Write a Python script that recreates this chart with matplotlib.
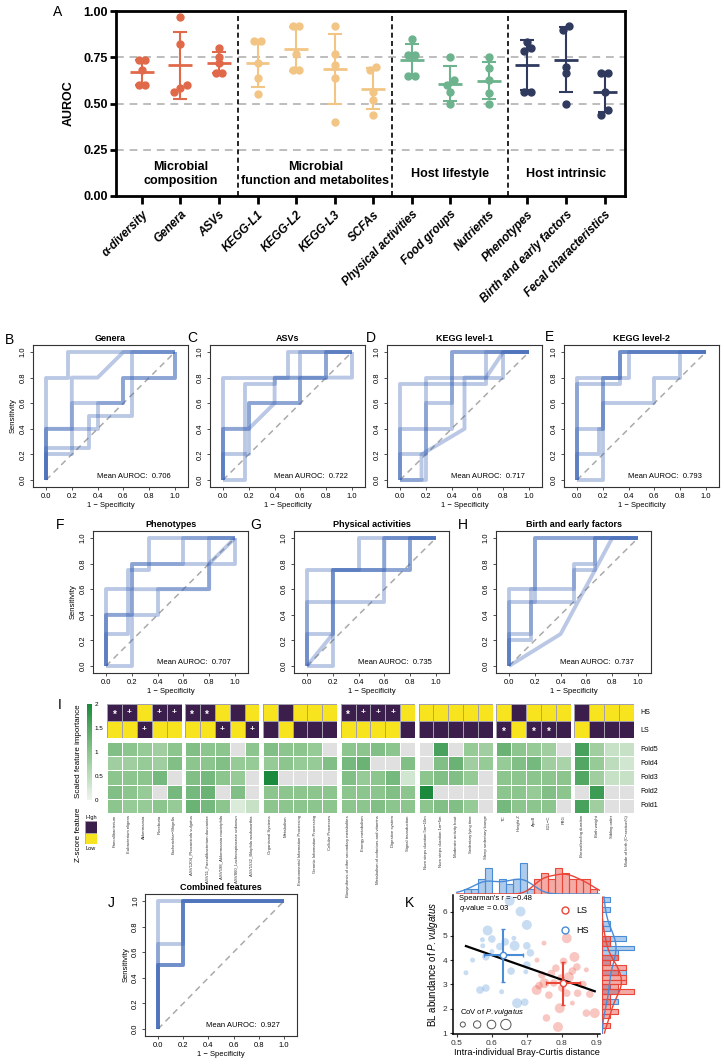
import numpy as np
import matplotlib
matplotlib.use("Agg")
import matplotlib.pyplot as plt
from matplotlib.colors import LinearSegmentedColormap, ListedColormap, to_rgba
from matplotlib.lines import Line2D
from matplotlib.patches import Rectangle

plt.rcParams['font.family'] = ['Liberation Sans', 'DejaVu Sans']
plt.rcParams['mathtext.fontset'] = 'custom'
plt.rcParams['mathtext.it'] = 'Liberation Sans:italic'
plt.rcParams['mathtext.rm'] = 'Liberation Sans'

W, H = 724, 1064

# ---------------- panel A: AUROC per fold
a_features = ['α-diversity', 'Genera', 'ASVs', 'KEGG-L1', 'KEGG-L2', 'KEGG-L3', 'SCFAs',
              'Physical activities', 'Food groups', 'Nutrients', 'Phenotypes',
              'Birth and early factors', 'Fecal characteristics']
a_group = [0, 0, 0, 1, 1, 1, 1, 2, 2, 2, 3, 3, 3]
a_group_names = ['Microbial\ncomposition', 'Microbial\nfunction and metabolites',
                 'Host lifestyle', 'Host intrinsic']
a_folds = [
    [0.733, 0.733, 0.68, 0.60, 0.60],
    [0.967, 0.82, 0.60, 0.56, 0.583],
    [0.80, 0.75, 0.72, 0.667, 0.667],
    [0.84, 0.84, 0.72, 0.64, 0.55],
    [0.92, 0.92, 0.77, 0.68, 0.68],
    [0.92, 0.767, 0.71, 0.64, 0.40],
    [0.70, 0.68, 0.56, 0.52, 0.44],
    [0.85, 0.76, 0.76, 0.65, 0.65],
    [0.75, 0.625, 0.60, 0.563, 0.50],
    [0.75, 0.69, 0.625, 0.555, 0.50],
    [0.833, 0.80, 0.783, 0.563, 0.563],
    [0.92, 0.90, 0.70, 0.667, 0.50],
    [0.667, 0.667, 0.563, 0.467, 0.44],
]
a_colors = ['#E0694A', '#F3C585', '#6DB38E', '#2F3A5E']

# ---------------- ROC curves (fpr, tpr) for each fold
roc_genera = [
    [(0, 0), (0, 0.8), (0.167, 0.8), (0.167, 1), (1, 1)],
    [(0, 0), (0, 0.4), (0.2, 0.4), (0.2, 0.8), (0.4, 0.8), (0.6, 1), (1, 1)],
    [(0, 0), (0, 0.25), (0.333, 0.25), (0.333, 0.5), (0.667, 0.5), (0.667, 1), (1, 1)],
    [(0, 0), (0, 0.4), (0.4, 0.4), (0.4, 0.6), (0.6, 0.6), (0.6, 0.8), (1, 0.8), (1, 1)],
    [(0, 0), (0, 0.2), (0.2, 0.2), (0.2, 0.6), (0.6, 0.6), (0.6, 0.8), (1, 0.8), (1, 1)],
]
roc_asvs = [
    [(0, 0), (0, 0.8), (0.5, 0.8), (0.5, 1), (1, 1)],
    [(0, 0), (0.167, 0), (0.167, 0.75), (0.4, 0.75), (0.4, 0.8), (0.6, 0.8), (0.6, 1), (1, 1)],
    [(0, 0), (0, 0.4), (0.2, 0.4), (0.2, 0.6), (0.6, 0.6), (0.6, 0.8), (0.8, 0.8), (0.8, 1), (1, 1)],
    [(0, 0), (0, 0.4), (0.2, 0.4), (0.4, 0.6), (0.4, 0.8), (0.8, 0.8), (1, 0.8), (1, 1)],
    [(0, 0), (0, 0.2), (0.2, 0.2), (0.2, 0.6), (0.6, 0.6), (0.6, 0.8), (0.8, 0.8), (0.8, 1), (1, 1)],
]
roc_kegg1 = [
    [(0, 0), (0, 0.75), (0.667, 0.75), (0.667, 1), (1, 1)],
    [(0, 0), (0, 0.4), (0.4, 0.4), (0.4, 1), (1, 1)],
    [(0, 0), (0, 0.2), (0.2, 0.2), (0.2, 0.6), (0.4, 0.6), (0.4, 1), (1, 1)],
    [(0, 0), (0.2, 0), (0.2, 0.8), (0.8, 0.8), (0.8, 1), (1, 1)],
    [(0, 0), (0.167, 0), (0.167, 0.2), (0.5, 0.4), (0.5, 0.8), (0.667, 0.8), (0.8, 1), (1, 1)],
]
roc_kegg2 = [
    [(0, 0), (0, 0.8), (0.4, 0.8), (0.4, 1), (1, 1)],
    [(0, 0), (0, 0.75), (0.333, 0.75), (0.333, 1), (1, 1)],
    [(0, 0), (0, 0.4), (0.2, 0.4), (0.2, 0.8), (0.333, 0.8), (0.333, 1), (1, 1)],
    [(0, 0), (0, 0.2), (0.167, 0.2), (0.167, 0.4), (0.2, 0.4), (0.2, 0.6), (0.6, 0.6),
     (0.6, 0.8), (0.8, 0.8), (0.8, 1), (1, 1)],
    [(0, 0), (0.2, 0), (0.2, 0.8), (0.333, 0.8), (0.333, 1), (1, 1)],
]
roc_pheno = [
    [(0, 0), (0, 0.25), (0.167, 0.25), (0.167, 0.75), (0.333, 0.75), (0.333, 1), (1, 1)],
    [(0, 0), (0, 0.6), (0.2, 0.6), (0.2, 0.8), (0.6, 0.8), (0.6, 1), (1, 1)],
    [(0, 0), (0, 0.4), (0.2, 0.4), (0.2, 0.8), (0.8, 0.8), (0.8, 1), (1, 1)],
    [(0, 0), (0, 0.4), (0.2, 0.4), (0.2, 0.6), (0.8, 0.6), (0.8, 0.8), (1, 1)],
    [(0, 0), (0.2, 0), (0.2, 0.4), (0.4, 0.4), (0.4, 0.6), (0.8, 0.6), (0.8, 0.8), (1, 0.8), (1, 1)],
]
roc_phys = [
    [(0, 0), (0, 0.75), (0.4, 0.75), (0.4, 1), (1, 1)],
    [(0, 0), (0, 0.5), (0.6, 0.5), (0.6, 1), (1, 1)],
    [(0, 0), (0, 0.25), (0.2, 0.25), (0.2, 0.75), (0.8, 0.75), (0.8, 1), (1, 1)],
    [(0, 0), (0.2, 0.25), (0.2, 0.75), (0.6, 0.75), (0.6, 1), (1, 1)],
    [(0, 0), (0.2, 0), (0.2, 0.75), (0.8, 0.75), (0.8, 1), (1, 1)],
]
roc_birth = [
    [(0, 0), (0, 0.6), (0.2, 0.6), (0.2, 1), (1, 1)],
    [(0, 0), (0, 0.5), (0.2, 0.5), (0.2, 1), (1, 1)],
    [(0, 0), (0, 0.2), (0.167, 0.2), (0.167, 0.6), (0.5, 0.6), (0.5, 0.8), (0.667, 0.8), (0.667, 1), (1, 1)],
    [(0, 0), (0, 0.25), (0.167, 0.25), (0.167, 0.5), (0.5, 0.5), (0.5, 0.75), (0.667, 0.75), (0.667, 1), (1, 1)],
    [(0, 0), (0.4, 0.25), (0.667, 0.75), (0.8, 1), (1, 1)],
]
roc_combined = [
    [(0, 0), (0, 1), (1, 1)],
    [(0, 0), (0, 0.667), (0.2, 0.667), (0.2, 1), (1, 1)],
    [(0, 0), (0, 0.5), (0.2, 0.5), (0.2, 1), (1, 1)],
    [(0, 0), (0, 0.5), (0.2, 0.5), (0.2, 1), (1, 1)],
    [(0, 0), (0, 0.5), (0.2, 0.5), (0.2, 1), (1, 1)],
]
roc_titles = ['Genera', 'ASVs', 'KEGG level-1', 'KEGG level-2', 'Phenotypes',
              'Physical activities', 'Birth and early factors', 'Combined features']
roc_mean_auc = ['0.706', '0.722', '0.717', '0.793', '0.707', '0.735', '0.737', '0.927']

# ---------------- panel I: feature importance heatmap
hm_labels = [
    ['Faecalibacterium', 'Eubacterium eligens', 'Akkermansia', 'Roseburia', 'Escherichia−Shigella'],
    ['ASV1204_Phocaeicola vulgatus', 'ASV11_Faecalibacterium duncaniae', 'ASV598_Akkermansia muciniphila',
     'ASV860_Lachnospiraceae unknown', 'ASV1532_Bilophila wadsworthia'],
    ['Organismal Systems', 'Metabolism', 'Environmental Information Processing',
     'Genetic Information Processing', 'Cellular Processes'],
    ['Biosynthesis of other secondary metabolites', 'Energy metabolism',
     'Metabolism of cofactors and vitamins', 'Digestive system', 'Signal transduction'],
    ['Num steps duration 5m−10m', 'Num steps duration 1m−5m', 'Moderate activity bout',
     'Sedentary lying time', 'Sleep sedentary lounge'],
    ['TC', 'Height Z', 'ApoB', 'LDL−C', 'FBG'],
    ['Breastfeeding duration', 'Birth weight', 'Sibling order', 'Mode of birth (C−section%)'],
]
hm_hs_high = [[1, 1, 0, 1, 1], [1, 1, 0, 1, 0], [0, 1, 0, 0, 0], [1, 1, 1, 1, 0],
              [0, 0, 0, 0, 0], [0, 1, 0, 0, 0], [1, 0, 0, 0]]
hm_ls_high = [[0, 0, 1, 0, 0], [0, 0, 1, 0, 1], [1, 0, 1, 1, 1], [0, 0, 0, 0, 1],
              [1, 1, 1, 1, 1], [1, 0, 1, 1, 1], [0, 1, 1, 1]]
hm_hs_mark = [['*', '+', '', '+', '+'], ['*', '*', '', '', ''], ['', '', '', '', ''],
              ['*', '+', '+', '+', ''], ['', '', '', '', ''], ['', '', '', '', ''], ['', '', '', '']]
hm_ls_mark = [['', '', '+', '', ''], ['', '', '+', '', '+'], ['', '', '', '', ''],
              ['', '', '', '', ''], ['', '', '', '', ''], ['*', '', '*', '*', ''], ['', '', '', '']]
nan = np.nan
hm_folds = [  # rows Fold5..Fold1
    [[1.1, 1.0, 0.9, 0.8, 1.0], [0.8, 0.8, 0.9, 0.8, 1.1], [1.0, 1.0, 1.0, 1.2, nan],
     [1.1, 1.0, 0.9, nan, 1.2], [1.0, 0.9, 0.9, 1.0, 0.9]],
    [[1.1, 1.0, 1.0, nan, 1.0], [1.0, 1.0, 1.1, 0.9, 0.9], [1.1, 1.2, 1.0, 0.9, nan],
     [1.2, 1.3, nan, 1.1, nan], [1.3, 1.2, 1.0, 0.2, 0.4]],
    [[1.1, 1.0, 1.0, 0.9, nan], [0.9, 1.0, 0.9, 0.9, 1.1], [2.0, nan, nan, nan, nan],
     [1.0, 1.0, 1.0, 1.0, 1.0], [1.0, 1.0, 1.0, 1.0, 1.0]],
    [[1.0, 1.0, 1.1, 1.0, nan], [1.2, 1.3, nan, nan, 1.1], [1.1, 0.9, 1.0, 1.2, 0.3],
     [1.0, 1.0, 1.0, 1.1, 1.0], [1.0, 1.0, 1.1, 1.0, 1.0]],
    [[nan, 1.6, nan, 0.9, 0.8], [nan, 1.1, 1.3, 0.8, 0.9], [1.0, 1.1, 1.1, 0.9, nan],
     [2.0, nan, nan, nan, nan], [1.0, 1.1, 1.1, 0.9, nan]],
    [[1.3, 1.0, 0.9, 0.8, nan], [0.9, 1.1, 1.2, 0.8, 0.7], [1.0, 1.0, 1.0, 1.0, 1.0],
     [1.0, 1.0, 0.9, 1.1, 1.0], [1.2, 1.0, 1.0, 1.0, nan]],
    [[1.6, 0.8, 0.4, 0.4], [1.5, 0.9, 0.5, 0.3], [1.5, 0.8, 0.4, 0.4],
     [nan, 1.7, nan, nan], [1.6, 0.8, nan, nan]],
]
hm_row_names = ['HS', 'LS', 'Fold5', 'Fold4', 'Fold3', 'Fold2', 'Fold1']

# ---------------- panel K: P. vulgatus vs Bray-Curtis distance
hs_x = [0.651, 0.682, 0.700, 0.588, 0.573, 0.600, 0.574, 0.623, 0.665, 0.700, 0.526, 0.583, 0.697,
        0.700, 0.583, 0.663, 0.566, 0.628, 0.672, 0.694, 0.545, 0.655, 0.710, 0.600, 0.638]
hs_y = [6.44, 6.00, 5.45, 5.22, 4.84, 4.87, 4.59, 4.56, 4.59, 4.59, 3.48, 2.85, 3.52,
        3.80, 4.14, 4.90, 2.77, 2.70, 2.23, 2.27, 4.00, 3.55, 4.30, 4.35, 4.75]
hs_cov = [0.6, 0.6, 0.6, 0.6, 0.15, 0.35, 0.15, 0.35, 0.6, 0.35, 0.15, 0.35, 0.15,
          0.35, 0.35, 0.15, 0.35, 0.15, 0.6, 0.35, 0.15, 0.35, 0.35, 0.15, 0.35]
ls_x = [0.814, 0.749, 0.729, 0.783, 0.743, 0.797, 0.836, 0.843, 0.777, 0.735, 0.728, 0.763, 0.794,
        0.756, 0.789, 0.870, 0.894, 0.830, 0.814, 0.845, 0.820, 0.860, 0.880, 0.770, 0.800,
        0.750, 0.830, 0.870, 0.805]
ls_y = [4.90, 4.70, 4.00, 3.67, 3.39, 3.26, 4.13, 3.72, 3.06, 2.95, 2.77, 2.56, 2.02,
        1.62, 1.25, 1.82, 1.82, 2.23, 2.64, 2.64, 3.30, 3.00, 2.60, 3.45, 2.85,
        3.05, 3.55, 3.60, 3.95]
ls_cov = [0.6, 0.15, 0.15, 0.35, 0.35, 0.35, 0.6, 0.35, 0.35, 0.35, 0.6, 0.35, 0.6,
          0.35, 0.6, 0.35, 0.6, 0.15, 0.35, 0.35, 0.6, 0.35, 0.35, 0.35, 0.35,
          0.6, 0.35, 0.15, 0.35]
cov_legend = [0.16, 0.33, 0.45, 0.65]
spearman_r = '−0.48'
q_value = '0.03'

fig = plt.figure(figsize=(W / 100, H / 100), dpi=100)


def px_axes(x0, y0, x1, y1):
    return fig.add_axes([x0 / W, 1 - y1 / H, (x1 - x0) / W, (y1 - y0) / H])


def px_text(x, y, s, **kw):
    return fig.text(x / W, 1 - y / H, s, **kw)


def spread(vals, tol=0.03, step=0.17):
    order = np.argsort(vals)
    clusters = []
    for i in order:
        if clusters and vals[i] - vals[clusters[-1][-1]] < tol:
            clusters[-1].append(i)
        else:
            clusters.append([i])
    offs = np.zeros(len(vals))
    for c in clusters:
        for j, i in enumerate(c):
            offs[i] = (j - (len(c) - 1) / 2) * step
    return offs


# ---------------- A
ax = px_axes(116, 11, 625, 196)
for i, vals in enumerate(a_folds):
    vals = np.array(vals)
    col = a_colors[a_group[i]]
    ax.plot(i + spread(vals), vals, 'o', color=col, ms=5, zorder=3)
    m, sd = vals.mean(), vals.std(ddof=1)
    ax.hlines(m, i - 0.31, i + 0.31, color=col, lw=2, zorder=3)
    ax.errorbar(i, m, yerr=sd, fmt='none', ecolor=col, elinewidth=1.5,
                capsize=5, capthick=1.5, zorder=3)
for y in [0.25, 0.5, 0.75]:
    ax.axhline(y, color='#BDBDBD', lw=1.4, ls=(0, (4, 3)), zorder=1)
a_group = np.array(a_group)
for b in np.where(np.diff(a_group) != 0)[0]:
    ax.axvline(b + 0.5, color='black', lw=1.2, ls=(0, (3, 2)), zorder=1)
for g, name in enumerate(a_group_names):
    ax.text(np.where(a_group == g)[0].mean(), 0.12, name, ha='center', va='center',
            fontsize=9, fontweight='bold', linespacing=1.25)
ax.set_xlim(-0.67, len(a_features) - 0.47)
ax.set_ylim(0, 1)
ax.set_yticks([0, 0.25, 0.5, 0.75, 1.0])
ax.set_yticklabels(['0.00', '0.25', '0.50', '0.75', '1.00'], fontsize=9, fontweight='bold')
ax.set_xticks(np.arange(len(a_features)))
ax.set_xticklabels(a_features, rotation=45, ha='right', va='top', rotation_mode='anchor',
                   fontsize=8.5, fontweight='bold', fontstyle='italic')
ax.set_ylabel('AUROC', fontsize=9, fontweight='bold', labelpad=6)
for s in ax.spines.values():
    s.set_linewidth(2)
ax.tick_params(axis='x', length=6, width=2, pad=3)
ax.tick_params(axis='y', length=4, width=2, pad=2)
px_text(58, 12, 'A', fontsize=10, va='center', ha='center')

# ---------------- ROC panels
ROC_BLUE = '#3B64B5'


def roc_panel(x_zero, y_one, curves, title, auc, letter, letter_xy, ylabel=False, scale=129):
    x0 = x_zero - 0.1 * scale
    x1 = x_zero + 1.1 * scale
    y0 = y_one - 0.055 * 128
    y1 = y_one + 1.055 * 128
    ax = px_axes(x0, y0, x1, y1)
    for c in curves:
        p = np.array(c, dtype=float)
        ax.plot(p[:, 0], p[:, 1], color=ROC_BLUE, alpha=0.35, lw=2.8,
                solid_capstyle='butt', zorder=2)
    ax.plot([0, 1], [0, 1], color='#AAAAAA', lw=1.1, ls=(0, (4, 3)), zorder=1)
    ax.set_xlim(-0.1, 1.1)
    ax.set_ylim(-0.055, 1.055)
    ticks = np.arange(0, 1.01, 0.2)
    ax.set_xticks(ticks)
    ax.set_yticks(ticks)
    ax.set_xticklabels(['%.1f' % t for t in ticks], fontsize=5.5)
    ax.set_yticklabels(['%.1f' % t for t in ticks], fontsize=5.5, rotation=90, va='center')
    ax.tick_params(length=2.5, width=0.6, pad=2, color='#333333')
    for s in ax.spines.values():
        s.set_linewidth(0.8)
        s.set_color('#333333')
    ax.set_title(title, fontsize=6.5, fontweight='bold', pad=3)
    ax.set_xlabel('1 − Specificity', fontsize=5.5, labelpad=1)
    if ylabel:
        ax.set_ylabel('Sensitivity', fontsize=5.5, labelpad=2)
    ax.text(0.97, 0.03, 'Mean AUROC:  ' + auc, ha='right', va='center', fontsize=5.5)
    px_text(letter_xy[0], letter_xy[1], letter, fontsize=10, ha='center', va='center')


roc_panel(46, 352, roc_genera, roc_titles[0], roc_mean_auc[0], 'B', (9, 340), ylabel=True)
roc_panel(223, 352, roc_asvs, roc_titles[1], roc_mean_auc[1], 'C', (192, 338))
roc_panel(400, 352, roc_kegg1, roc_titles[2], roc_mean_auc[2], 'D', (371, 338))
roc_panel(577, 352, roc_kegg2, roc_titles[3], roc_mean_auc[3], 'E', (549, 337))
roc_panel(106, 538, roc_pheno, roc_titles[4], roc_mean_auc[4], 'F', (60, 525), ylabel=True)
roc_panel(307, 538, roc_phys, roc_titles[5], roc_mean_auc[5], 'G', (256, 525))
roc_panel(509, 538, roc_birth, roc_titles[6], roc_mean_auc[6], 'H', (463, 525))
roc_panel(158, 901, roc_combined, roc_titles[7], roc_mean_auc[7], 'J', (111, 903),
          ylabel=True, scale=126)

# ---------------- I heatmap
green = LinearSegmentedColormap.from_list('imp', ['#EEF4EC', '#8CC58E', '#1B8A3C'])
green.set_bad('#E0E0E0')
zcmap = ListedColormap(['#F7E31E', '#3B1E4B'])
cell_w, gap = 14.9, 3.4
gx = 107
for g, labels in enumerate(hm_labels):
    n = len(labels)
    gx1 = gx + n * cell_w
    axb = px_axes(gx, 704, gx1, 738)
    zb = np.array([hm_hs_high[g], hm_ls_high[g]])
    axb.pcolormesh(zb, cmap=zcmap, vmin=0, vmax=1, edgecolors='#A49FAE', linewidth=0.7)
    axb.set_ylim(2, 0)
    for r, marks in enumerate([hm_hs_mark[g], hm_ls_mark[g]]):
        for c, mk in enumerate(marks):
            if mk:
                axb.text(c + 0.5, r + 0.5 + (0.12 if mk == '*' else 0), mk, color='white',
                         ha='center', va='center', fontsize=7 if mk == '*' else 6,
                         fontweight='bold')
    axb.axis('off')
    axf = px_axes(gx, 742, gx1, 813)
    zf = np.ma.masked_invalid(np.array(hm_folds[g]))
    axf.pcolormesh(zf, cmap=green, vmin=0, vmax=2, edgecolors='white', linewidth=0.6)
    axf.set_ylim(5, 0)
    axf.axis('off')
    for c, lab in enumerate(labels):
        axf.text(c + 0.5, 5.15, lab, rotation=90, ha='center', va='top', fontsize=3.1,
                 color='#333333')
    gx = gx1 + gap
for k, name in enumerate(hm_row_names):
    y = [713, 730][k] if k < 2 else 742 + (k - 2 + 0.5) * 14.2
    px_text(640, y, name, fontsize=5, va='center', ha='left')

axc = px_axes(87, 704, 92, 800)
axc.pcolormesh(np.array([0, 1]), np.linspace(0, 2, 101), np.linspace(0, 2, 100)[:, None],
               cmap=green, vmin=0, vmax=2)
axc.set_ylim(0, 2)
axc.set_xticks([])
axc.yaxis.tick_right()
axc.set_yticks([0, 0.5, 1, 1.5, 2])
axc.set_yticklabels(['0', '0.5', '1', '1.5', '2'], fontsize=4.5)
axc.tick_params(length=0, pad=2)
for s in axc.spines.values():
    s.set_visible(False)
px_text(78, 751, 'Scaled feature importance', rotation=90, fontsize=5.8, ha='center', va='center')
px_text(60, 705, 'I', fontsize=10, ha='center', va='center')

axz = px_axes(85, 821, 97, 844)
axz.add_patch(Rectangle((0, 0.5), 1, 0.5, color='#3B1E4B', ec='#A49FAE', lw=0.5))
axz.add_patch(Rectangle((0, 0), 1, 0.5, color='#F7E31E', ec='#A49FAE', lw=0.5))
axz.set_xlim(0, 1)
axz.set_ylim(0, 1)
axz.axis('off')
px_text(91, 817, 'High', fontsize=4, ha='center', va='center')
px_text(91, 848, 'Low', fontsize=4, ha='center', va='center')
px_text(78, 835, 'Z-score feature', rotation=90, fontsize=5.8, ha='center', va='center')

# ---------------- K scatter with marginals
HS_C, LS_C = '#4A8CD6', '#EA4638'
hs_x, hs_y, hs_cov = map(np.array, (hs_x, hs_y, hs_cov))
ls_x, ls_y, ls_cov = map(np.array, (ls_x, ls_y, ls_cov))
axk = px_axes(453, 895, 600, 1034)
axk.scatter(hs_x, hs_y, s=hs_cov * 85, color=HS_C, alpha=0.3, lw=0, zorder=2)
axk.scatter(ls_x, ls_y, s=ls_cov * 85, color=LS_C, alpha=0.3, lw=0, zorder=2)
all_x = np.concatenate([hs_x, ls_x])
all_y = np.concatenate([hs_y, ls_y])
k, b = np.polyfit(all_x, all_y, 1)
xx = np.array([all_x.min(), all_x.max()])
axk.plot(xx, k * xx + b, color='black', lw=1.6, zorder=3)
for gx_, gy_, col in [(hs_x, hs_y, HS_C), (ls_x, ls_y, LS_C)]:
    axk.errorbar(gx_.mean(), gy_.mean(), xerr=gx_.std(ddof=1), yerr=gy_.std(ddof=1),
                 fmt='o', color=col, mfc='white', mec=col, ms=4.5, elinewidth=1.5,
                 capsize=1.5, zorder=4)
axk.set_xlim(0.489, 0.909)
axk.set_ylim(0.96, 6.68)
axk.set_xticks([0.5, 0.6, 0.7, 0.8, 0.9])
axk.set_xticklabels(['0.5', '0.6', '0.7', '0.8', '0.9'])
axk.set_yticks([1, 2, 3, 4, 5, 6])
axk.tick_params(labelsize=6, length=2.5, width=0.8, pad=1.5, colors='#333333')
for s in ['top', 'right']:
    axk.spines[s].set_visible(False)
for s in ['left', 'bottom']:
    axk.spines[s].set_linewidth(1.1)
axk.set_xlabel('Intra-individual Bray-Curtis distance', fontsize=6.6, labelpad=1)
axk.set_ylabel(r'BL abundance of $\it{P. vulgatus}$', fontsize=7, labelpad=2)
axk.text(0.505, 6.52, "Spearman's r = " + spearman_r, fontsize=5.5, va='center')
axk.text(0.505, 6.12, r'$\it{q}$-value = ' + q_value, fontsize=5.5, va='center')
handles = [Line2D([], [], marker='o', ls='none', mfc='none', mec=LS_C, ms=5, mew=1, label='LS'),
           Line2D([], [], marker='o', ls='none', mfc='none', mec=HS_C, ms=5, mew=1, label='HS')]
axk.legend(handles=handles, loc='upper right', bbox_to_anchor=(0.98, 0.98), frameon=False,
           fontsize=6.5, handletextpad=0.3, labelspacing=1.2)
axk.text(0.51, 1.85, r'CoV of $\it{P.vulgatus}$', fontsize=5.5, va='center')
leg_x = np.linspace(0.517, 0.64, len(cov_legend))
axk.scatter(leg_x, np.full(len(cov_legend), 1.35), s=np.array(cov_legend) * 85,
            facecolor='none', edgecolor='#555555', lw=0.7)
px_text(409, 903, 'K', fontsize=10, ha='center', va='center')


def kde(vals, grid):
    bw = vals.std(ddof=1) * len(vals) ** (-0.2)
    d = np.exp(-0.5 * ((grid[:, None] - vals[None, :]) / bw) ** 2).sum(1)
    return d / (len(vals) * bw * np.sqrt(2 * np.pi))


axt = px_axes(453, 860, 600, 894)
bins_x = np.arange(0.5, 0.92, 0.02)
grid_x = np.linspace(0.5, 0.91, 200)
top_max = 0
for v, col in [(hs_x, HS_C), (ls_x, LS_C)]:
    cnt, edges = np.histogram(v, bins_x)
    axt.bar(edges[:-1], cnt, width=0.02, align='edge', color=to_rgba(col, 0.45),
            edgecolor=col, lw=0.8)
    axt.plot(grid_x, kde(v, grid_x) * len(v) * 0.02, color=col, lw=1)
    top_max = max(top_max, cnt.max())
axt.set_xlim(0.489, 0.909)
axt.set_ylim(0, top_max * 1.1)
axt.axis('off')

axr = px_axes(602, 895, 637, 1034)
bins_y = np.arange(1.0, 6.8, 0.2)
grid_y = np.linspace(1.0, 6.6, 200)
right_max = 0
for v, col in [(hs_y, HS_C), (ls_y, LS_C)]:
    cnt, edges = np.histogram(v, bins_y)
    axr.barh(edges[:-1], cnt, height=0.2, align='edge', color=to_rgba(col, 0.45),
             edgecolor=col, lw=0.8)
    axr.plot(kde(v, grid_y) * len(v) * 0.2, grid_y, color=col, lw=1)
    right_max = max(right_max, cnt.max())
axr.set_ylim(0.96, 6.68)
axr.set_xlim(0, right_max * 1.1)
axr.axis('off')

fig.savefig('out.png', dpi=100)
